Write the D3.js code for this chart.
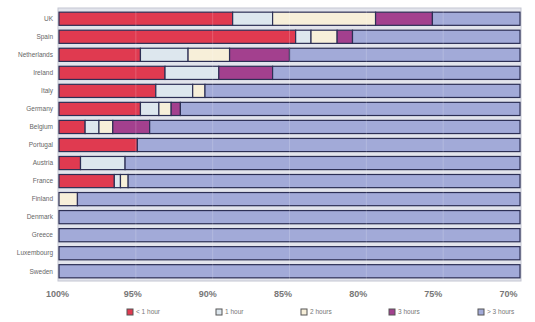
<!DOCTYPE html>
<html>
<head>
<meta charset="utf-8">
<script src="https://cdn.jsdelivr.net/npm/d3@7"></script>
<style>
  html, body { margin: 0; padding: 0; background: #ffffff; }
  svg { display: block; font-family: "Liberation Sans", Arial, sans-serif; }
</style>
</head>
<body>
<svg id="chart" width="535" height="322"></svg>
<script>
// Countries, top to bottom
const countries = ["UK", "Spain", "Netherlands", "Ireland", "Italy", "Germany", "Belgium",
  "Portugal", "Austria", "France", "Finland", "Denmark", "Greece", "Luxembourg", "Sweden"];

// Series (percentage points, stacked from 100% downward)
const seriesNames = ["< 1 hour", "1 hour", "2 hours", "3 hours", "> 3 hours"];
const lessOneHour = [11.3, 15.4, 5.3, 6.9, 6.3, 5.3, 1.7, 5.1, 1.4, 3.6, 0.0, 0, 0, 0, 0];
const oneHour     = [2.6, 1.0, 3.1, 3.5, 2.4, 1.2, 0.9, 0.0, 2.9, 0.4, 0.0, 0, 0, 0, 0];
const twoHours    = [6.7, 1.7, 2.7, 0.0, 0.8, 0.8, 0.9, 0.0, 0.0, 0.5, 1.2, 0, 0, 0, 0];
const threeHours  = [3.7, 1.0, 3.9, 3.5, 0.0, 0.6, 2.4, 0.0, 0.0, 0.0, 0.0, 0, 0, 0, 0];
const overThree   = [5.7, 10.9, 15.0, 16.1, 20.5, 22.1, 24.1, 24.9, 25.7, 25.5, 28.8, 30, 30, 30, 30];

// Axis tick labels
const tickValues = [100, 95, 90, 85, 80, 75, 70];

const colors = ["#e03a50", "#dde7ee", "#f7efd9", "#a3408e", "#a2aad8"];

const table = countries.map((c, i) => ({
  country: c,
  "< 1 hour": lessOneHour[i],
  "1 hour": oneHour[i],
  "2 hours": twoHours[i],
  "3 hours": threeHours[i],
  "> 3 hours": overThree[i]
}));

const svg = d3.select("#chart");
const plotLeft = 59, plotRight = 520, plotTop = 10, plotBottom = 280;

const x = d3.scaleLinear().domain([100, 70]).range([plotLeft, plotRight]);
// tick labels sit on a slightly narrower span than the plot
const xLabel = d3.scaleLinear().domain([100, 70]).range([57, 508]);
const y = d3.scaleBand().domain(countries).range([plotTop, plotBottom]).paddingInner(0.27).paddingOuter(0.12);

// plot background
svg.append("rect")
  .attr("x", plotLeft - 1).attr("y", plotTop - 2)
  .attr("width", plotRight - plotLeft + 2).attr("height", plotBottom - plotTop + 3)
  .attr("fill", "#e2e4ec").attr("stroke", "#c4c6d2").attr("stroke-width", 1);

const stack = d3.stack().keys(seriesNames);
const layers = stack(table);

const g = svg.append("g");
layers.forEach((layer, k) => {
  g.selectAll(null)
    .data(layer.filter(d => d[1] - d[0] > 0))
    .join("rect")
    .attr("x", d => x(100 - d[0]))
    .attr("width", d => x(100 - d[1]) - x(100 - d[0]))
    .attr("y", d => y(d.data.country))
    .attr("height", y.bandwidth())
    .attr("fill", colors[k])
    .attr("stroke", "#2c2f55")
    .attr("stroke-width", 1.2);
});

// faint vertical gridlines over the bars
svg.append("g").selectAll("line")
  .data(tickValues.slice(1, -1))
  .join("line")
  .attr("x1", d => x(d)).attr("x2", d => x(d))
  .attr("y1", plotTop).attr("y2", plotBottom)
  .attr("stroke", "#ffffff").attr("stroke-opacity", 0.18).attr("stroke-width", 1);

// country labels
svg.append("g").selectAll("text")
  .data(countries)
  .join("text")
  .attr("x", 53)
  .attr("y", d => y(d) + y.bandwidth() / 2)
  .attr("dy", "0.35em")
  .attr("text-anchor", "end")
  .attr("font-size", 6.5)
  .attr("fill", "#666")
  .text(d => d);

// bottom axis labels
const axis = d3.axisBottom(xLabel)
  .tickValues(tickValues)
  .tickFormat(d => d + "%")
  .tickSize(0)
  .tickPadding(0);
const ax = svg.append("g").attr("transform", `translate(0, ${plotBottom + 11})`).call(axis);
ax.select(".domain").remove();
ax.selectAll("text")
  .attr("font-size", 9)
  .attr("font-weight", "bold")
  .attr("fill", "#777")
  .attr("font-family", "Liberation Sans, Arial, sans-serif");

// legend
const legendX = [127, 216, 301, 389, 478];
const lg = svg.append("g").selectAll("g")
  .data(seriesNames)
  .join("g")
  .attr("transform", (d, i) => `translate(${legendX[i]}, 309)`);
lg.append("rect")
  .attr("width", 6).attr("height", 6)
  .attr("fill", (d, i) => colors[i])
  .attr("stroke", "#555").attr("stroke-width", 1);
lg.append("text")
  .attr("x", 9).attr("y", 3).attr("dy", "0.35em")
  .attr("font-size", 6.5).attr("fill", "#777")
  .text(d => d);
</script>
</body>
</html>
